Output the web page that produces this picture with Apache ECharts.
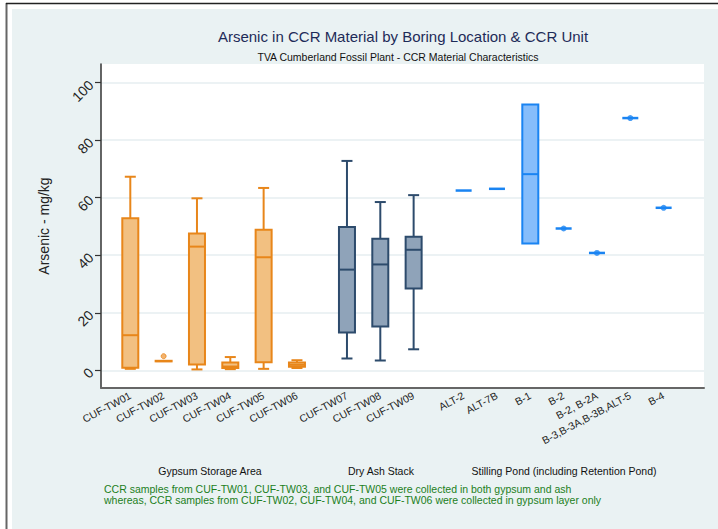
<!DOCTYPE html>
<html><head><meta charset="utf-8">
<script src="https://cdn.jsdelivr.net/npm/echarts@6/dist/echarts.min.js"></script>
<style>html,body{margin:0;padding:0;background:#fff}#c{width:718px;height:529px}</style>
</head><body><div id="c"></div>
<script>
// ---- data ----
const categories = ['CUF-TW01','CUF-TW02','CUF-TW03','CUF-TW04','CUF-TW05','CUF-TW06',
  'CUF-TW07','CUF-TW08','CUF-TW09',
  'ALT-2','ALT-7B','B-1','B-2','B-2, B-2A','B-3,B-3A,B-3B,ALT-5','B-4'];
const slots = [1,3,5,7,9,11,14,16,18,21,23,25,27,29,31,33];
const unitIndex = [0,0,0,0,0,0,1,1,1,2,2,2,2,2,2,2];
const minVals    = [0.5, 3.1, 0.3, 0.4, 0.5, 0.8, 4.1, 3.4, 7.3, 62.5, 63.1, 44.1, 49.3, 40.8, 87.7, 56.5];
const q1Vals     = [0.9, 3.1, 2.0, 0.8, 2.8, 1.2, 13.1, 15.2, 28.4, 62.5, 63.1, 44.1, 49.3, 40.8, 87.7, 56.5];
const medianVals = [12.2, 3.2, 43.0, 1.3, 39.3, 1.9, 35.0, 36.8, 41.9, 62.5, 63.1, 68.2, 49.3, 40.8, 87.7, 56.5];
const q3Vals     = [52.9, 3.3, 47.6, 2.7, 48.9, 2.7, 49.8, 45.7, 46.4, 62.5, 63.1, 92.4, 49.3, 40.8, 87.7, 56.5];
const maxVals    = [67.3, 3.3, 59.8, 4.6, 63.4, 3.5, 72.8, 58.5, 60.9, 62.5, 63.1, 92.4, 49.3, 40.8, 87.7, 56.5];
const outlierCats = ['CUF-TW02'];
const outlierVals = [4.9];
const markerCats = ['B-2','B-2, B-2A','B-3,B-3A,B-3B,ALT-5','B-4'];
const markerVals = [49.3, 40.8, 87.7, 56.5];
const yTicks = [0, 20, 40, 60, 80, 100];
const groupLabels = ['Gypsum Storage Area','Dry Ash Stack','Stilling Pond (including Retention Pond)'];
const footnoteLines = ['CCR samples from CUF-TW01, CUF-TW03, and CUF-TW05 were collected in both gypsum and ash',
  'whereas, CCR samples from CUF-TW02, CUF-TW04, and CUF-TW06 were collected in gypsum layer only'];

// ---- styles ----
const FONT = '"Liberation Sans", Arial, Helvetica, sans-serif';
const strokes = ['#e8861a', '#2d4b6c', '#1a84f2'];
const fills = ['#f2c081', '#8fa3b9', '#86bdfb'];
const NSLOTS = 36;
const axisData = new Array(NSLOTS).fill('');
categories.forEach((c, i) => { axisData[slots[i]] = c; });
const slotOf = c => slots[categories.indexOf(c)];

const boxData = categories.map((c, i) => [slots[i], minVals[i], q1Vals[i], medianVals[i], q3Vals[i], maxVals[i], unitIndex[i]]);

const Y_MIN = -6.16, Y_MAX = 106.5;

function renderBox(params, api) {
  const x = api.value(0);
  const g = api.value(6);
  const pMin = api.coord([x, api.value(1)]);
  const pQ1 = api.coord([x, api.value(2)]);
  const pMed = api.coord([x, api.value(3)]);
  const pQ3 = api.coord([x, api.value(4)]);
  const pMax = api.coord([x, api.value(5)]);
  const cx = pMed[0];
  const bw = 16, cw = 11;
  const st = strokes[g], fl = fills[g];
  const ch = [];
  const lw = 2;
  if (pMax[1] < pQ3[1] - 0.5) {
    ch.push({type: 'line', shape: {x1: cx, y1: pQ3[1], x2: cx, y2: pMax[1]}, style: {stroke: st, lineWidth: lw}});
    ch.push({type: 'line', shape: {x1: cx - cw/2, y1: pMax[1], x2: cx + cw/2, y2: pMax[1]}, style: {stroke: st, lineWidth: lw}});
  }
  if (pMin[1] > pQ1[1] + 0.5) {
    ch.push({type: 'line', shape: {x1: cx, y1: pQ1[1], x2: cx, y2: pMin[1]}, style: {stroke: st, lineWidth: lw}});
    ch.push({type: 'line', shape: {x1: cx - cw/2, y1: pMin[1], x2: cx + cw/2, y2: pMin[1]}, style: {stroke: st, lineWidth: lw}});
  }
  if (pQ1[1] - pQ3[1] > 0.5) {
    ch.push({type: 'rect', shape: {x: cx - bw/2, y: pQ3[1], width: bw, height: pQ1[1] - pQ3[1]}, style: {fill: fl, stroke: st, lineWidth: lw}});
    ch.push({type: 'line', shape: {x1: cx - bw/2, y1: pMed[1], x2: cx + bw/2, y2: pMed[1]}, style: {stroke: st, lineWidth: lw}});
  } else {
    ch.push({type: 'line', shape: {x1: cx - bw/2, y1: pMed[1], x2: cx + bw/2, y2: pMed[1]}, style: {stroke: st, lineWidth: 2.5}});
  }
  return {type: 'group', children: ch};
}

const chart = echarts.init(document.getElementById('c'), null, {renderer: 'svg'});
chart.setOption({
  animation: false,
  textStyle: {fontFamily: FONT},
  title: [
    {text: 'Arsenic in CCR Material by Boring Location & CCR Unit', left: 403, top: 29, padding: 0, textAlign: 'center',
     textStyle: {fontFamily: FONT, fontSize: 15, fontWeight: 'normal', color: '#1e2b58'}},
    {text: 'TVA Cumberland Fossil Plant - CCR Material Characteristics', left: 398, top: 51, padding: 0, textAlign: 'center',
     textStyle: {fontFamily: FONT, fontSize: 10.5, fontWeight: 'normal', color: '#111'}}
  ],
  graphic: [
    {type: 'rect', z: -100, silent: true, shape: {x: 12, y: 9, width: 706, height: 520}, style: {fill: '#eaf2f3'}},
    {type: 'line', z: -90, silent: true, shape: {x1: 6.5, y1: 3, x2: 6.5, y2: 529}, style: {stroke: '#666', lineWidth: 2}},
    {type: 'line', z: -90, silent: true, shape: {x1: 6, y1: 3.5, x2: 718, y2: 3.5}, style: {stroke: '#222', lineWidth: 1.5}},
    {type: 'text', style: {x: 210, y: 471, text: groupLabels[0], font: '10.5px ' + FONT, fill: '#111', textAlign: 'center', textVerticalAlign: 'middle'}},
    {type: 'text', style: {x: 381, y: 471, text: groupLabels[1], font: '10.5px ' + FONT, fill: '#111', textAlign: 'center', textVerticalAlign: 'middle'}},
    {type: 'text', style: {x: 564, y: 471, text: groupLabels[2], font: '10.5px ' + FONT, fill: '#111', textAlign: 'center', textVerticalAlign: 'middle'}},
    {type: 'text', style: {x: 104, y: 489, text: footnoteLines[0], font: '10.5px ' + FONT, fill: '#1c7f1c', textAlign: 'left', textVerticalAlign: 'middle'}},
    {type: 'text', style: {x: 104, y: 500, text: footnoteLines[1], font: '10.5px ' + FONT, fill: '#1c7f1c', textAlign: 'left', textVerticalAlign: 'middle'}}
  ],
  grid: [
    {left: 101, top: 64, right: 14, bottom: 141, show: true, backgroundColor: '#ffffff', borderWidth: 0},
    {left: 105.3, top: 64, width: 600, bottom: 141}
  ],
  xAxis: [
    {type: 'category', gridIndex: 0, data: [''], axisLine: {onZero: false, lineStyle: {color: '#666', width: 2}},
     axisTick: {show: false}, axisLabel: {show: false}, splitLine: {show: false}},
    {type: 'category', gridIndex: 1, data: axisData, boundaryGap: true,
     axisLine: {show: false, onZero: false}, axisTick: {show: false}, splitLine: {show: false},
     axisLabel: {interval: 0, rotate: 28, margin: 7, fontSize: 10.5, color: '#222', fontFamily: FONT}}
  ],
  yAxis: [
    {type: 'value', gridIndex: 0, min: Y_MIN, max: Y_MAX,
     name: 'Arsenic - mg/kg', nameLocation: 'middle', nameGap: 50,
     nameTextStyle: {fontSize: 14, color: '#222', fontFamily: FONT},
     axisLine: {show: true, lineStyle: {color: '#333', width: 1.5}},
     axisTick: {show: true, length: 6, customValues: yTicks, lineStyle: {color: '#333', width: 1.2}},
     axisLabel: {customValues: yTicks, rotate: 45, margin: 10, fontSize: 14, color: '#222', fontFamily: FONT},
     splitLine: {show: true, lineStyle: {color: '#e6eef0', width: 1.5}}},
    {type: 'value', gridIndex: 1, min: Y_MIN, max: Y_MAX, show: false, splitLine: {show: false}}
  ],
  series: [
    {type: 'custom', xAxisIndex: 1, yAxisIndex: 1, renderItem: renderBox, data: boxData,
     encode: {x: 0, y: [1, 2, 3, 4, 5]}, z: 3},
    {type: 'scatter', xAxisIndex: 1, yAxisIndex: 1, symbol: 'circle', symbolSize: 5,
     itemStyle: {color: '#f0a04a', borderColor: '#e8861a', borderWidth: 1},
     data: outlierCats.map((c, i) => [slotOf(c), outlierVals[i]]), z: 4},
    {type: 'scatter', xAxisIndex: 1, yAxisIndex: 1, symbol: 'circle', symbolSize: 6,
     itemStyle: {color: '#1a84f2'},
     data: markerCats.map((c, i) => [slotOf(c), markerVals[i]]), z: 4}
  ]
});
</script></body></html>
